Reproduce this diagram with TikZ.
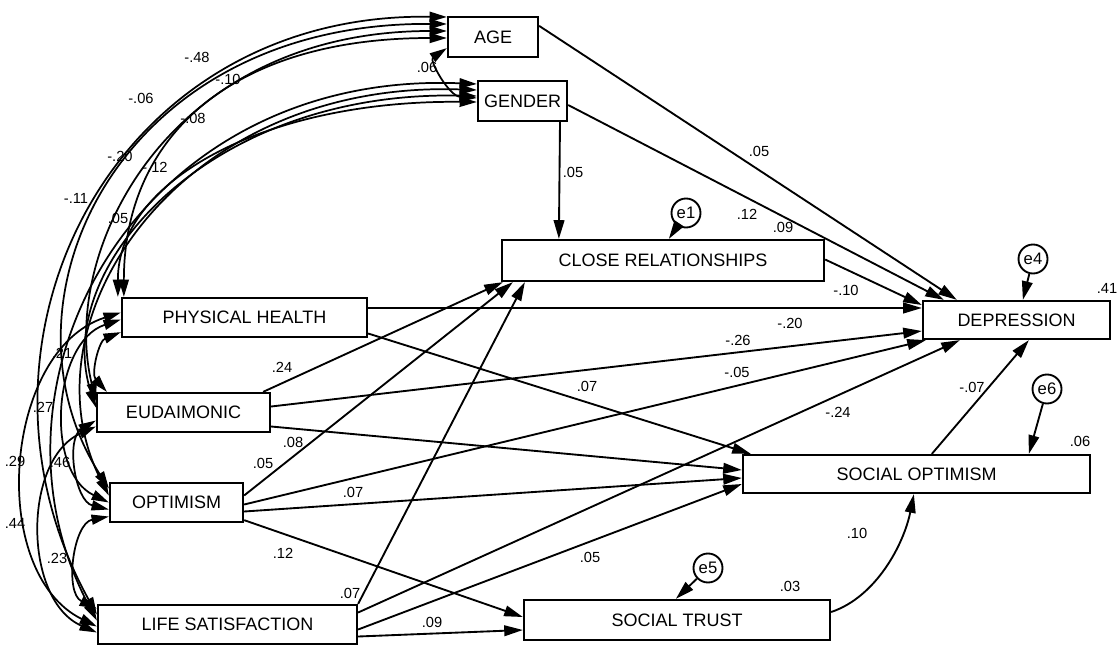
\documentclass[tikz,border=0pt]{standalone}
\usepackage{fontspec}
\setmainfont{Liberation Sans}
\usetikzlibrary{arrows.meta,calc}

\begin{document}
\begin{tikzpicture}[x=0.75pt,y=-0.75pt,
    obs/.style={draw,fill=white,line width=1.7pt,inner sep=0pt,font=\fontsize{13.5}{15}\selectfont},
    err/.style={draw,circle,fill=white,line width=1.4pt,minimum size=.75*29pt,inner sep=0pt,font=\fontsize{12.5}{14}\selectfont},
    reg/.style={line width=1.4pt,-{Triangle[length=14pt,width=8pt]}},
    cov/.style={line width=1.3pt,{Triangle[length=13pt,width=7.5pt]}-{Triangle[length=13pt,width=7.5pt]}},
    coef/.style={font=\fontsize{11}{12}\selectfont,inner sep=0pt}]
    \useasboundingbox (0,0) rectangle (1120,646);

    % variables
    \node[obs,minimum width=.75*90pt,minimum height=.75*40pt] (age) at (493,37) {AGE};
    \node[obs,minimum width=.75*89pt,minimum height=.75*40pt] (gender) at (522.5,101) {GENDER};
    \node[obs,minimum width=.75*322pt,minimum height=.75*41pt] (cr) at (663,260.5) {CLOSE RELATIONSHIPS};
    \node[obs,minimum width=.75*187pt,minimum height=.75*38pt] (dep) at (1016.5,320) {DEPRESSION};
    \node[obs,minimum width=.75*245pt,minimum height=.75*39pt] (ph) at (244.5,317.5) {PHYSICAL HEALTH};
    \node[obs,minimum width=.75*173pt,minimum height=.75*39pt] (eud) at (183.5,412.5) {EUDAIMONIC};
    \node[obs,minimum width=.75*133pt,minimum height=.75*39pt] (opt) at (176.5,502.5) {OPTIMISM};
    \node[obs,minimum width=.75*259pt,minimum height=.75*39pt] (ls) at (227.5,624.5) {LIFE SATISFACTION};
    \node[obs,minimum width=.75*306pt,minimum height=.75*40pt] (st) at (677,620) {SOCIAL TRUST};
    \node[obs,minimum width=.75*347pt,minimum height=.75*38pt] (so) at (916.5,474) {SOCIAL OPTIMISM};
    \node[err] (e1) at (686,213) {e1};
    \node[err] (e4) at (1033,259) {e4};
    \node[err] (e6) at (1047,389) {e6};
    \node[err] (e5) at (708,568) {e5};

    % regressions
    \draw[reg] ($(age.north east)+(0,10)$) -- ($(dep.north west)+(35,0)$);
    \draw[reg] ($(gender.east)+(0,4)$) -- ($(dep.north west)+(22,0)$);
    \draw[reg] ($(gender.south)+(37.5,0)$) -- ($(cr.north west)+(58,0)$);
    \draw[reg] ($(cr.east)+(0,-1)$) -- ($(dep.west)+(0,-15)$);
    \draw[reg] ($(ph.east)+(0,-9.5)$) -- ($(dep.west)+(0,-12)$);
    \draw[reg] ($(eud.east)+(0,-6)$) -- ($(dep.west)+(0,11)$);
    \draw[reg] ($(opt.east)+(0,2)$) -- ($(dep.south west)+(4,0)$);
    \draw[reg] ($(ls.east)+(0,-12)$) -- ($(dep.south west)+(38,0)$);
    \draw[reg] ($(so.north west)+(190,0)$) -- ($(dep.south west)+(107,0)$);
    \draw[reg] ($(ph.east)+(0,16)$) -- ($(so.north west)+(9,0)$);
    \draw[reg] ($(eud.east)+(0,14)$) -- ($(so.west)+(0,-4)$);
    \draw[reg] ($(opt.east)+(0,9)$) -- ($(so.west)+(0,4)$);
    \draw[reg] ($(ls.east)+(0,5)$) -- ($(so.west)+(0,10)$);
    \draw[reg] ($(eud.north east)+(-8,0)$) -- ($(cr.south west)+(2,0)$);
    \draw[reg] ($(opt.east)+(0,-7)$) -- ($(cr.south west)+(12,0)$);
    \draw[reg] (ls.north east) -- ($(cr.south west)+(24,0)$);
    \draw[reg] ($(opt.south east)+(0,-3)$) -- ($(st.west)+(0,-3)$);
    \draw[reg] ($(ls.east)+(0,12)$) -- ($(st.west)+(0,10)$);
    \draw[reg] ($(st.east)+(0,-8)$) .. controls +(45,-15) and +(-10,50) .. ($(so.south west)+(172,0)$);
    \draw[reg] (e1) -- ($(cr.north west)+(168,0)$);
    \draw[reg] (e4) -- ($(dep.north west)+(101,0)$);
    \draw[reg] (e6) -- ($(so.north west)+(287,0)$);
    \draw[reg] (e5) -- ($(st.north west)+(153,0)$);

    % covariances
    \draw[cov] ($(age.south west)+(0,-10)$) .. controls +(-18,12) and +(-28,-2) .. ($(gender.west)+(0,-3)$);
    \draw[cov] ($(age.west)+(0,-20)$) .. controls +(-335,-5) and +(-150,-272) .. ($(ls.west)+(0,-10)$);
    \draw[cov] ($(age.west)+(0,-13)$) .. controls +(-328,-2) and +(-120,-188) .. ($(opt.west)+(0,-14)$);
    \draw[cov] ($(age.west)+(0,-6)$) .. controls +(-278,0) and +(-37,-150) .. ($(eud.west)+(0,-12)$);
    \draw[cov] ($(age.west)+(0,1)$) .. controls +(-218,0) and +(0,-158) .. ($(ph.north west)+(3,0)$);
    \draw[cov] ($(gender.west)+(0,-17)$) .. controls +(-338,-14) and +(-128,-240) .. ($(ls.west)+(0,-4)$);
    \draw[cov] ($(gender.west)+(0,-11)$) .. controls +(-298,-10) and +(-90,-175) .. ($(opt.west)+(0,-7)$);
    \draw[cov] ($(gender.west)+(0,-5)$) .. controls +(-268,-6) and +(-45,-140) .. ($(eud.west)+(0,-5)$);
    \draw[cov] ($(gender.west)+(0,1)$) .. controls +(-208,-2) and +(0,-118) .. ($(ph.north west)+(-3,0)$);
    \draw[cov] ($(ph.south west)+(0,-6)$) to[bend right=55] ($(eud.north west)+(11,0)$);
    \draw[cov] ($(ph.west)+(0,2)$) to[bend right=68] (opt.west);
    \draw[cov] ($(ph.west)+(0,-5)$) to[bend right=68] ($(ls.west)+(0,2)$);
    \draw[cov] ($(eud.west)+(0,8)$) to[bend right=68] ($(opt.west)+(0,7)$);
    \draw[cov] ($(eud.west)+(0,14)$) to[bend right=66] ($(ls.west)+(0,8)$);
    \draw[cov] ($(opt.west)+(0,14)$) to[bend right=72] ($(ls.west)+(0,-16)$);

    % estimates
    \node[coef] (w1) at (759,151) {.05};
    \node[coef] (w2) at (747,214) {.12};
    \node[coef] (w3) at (573,172) {.05};
    \node[coef] (w4) at (846,290) {-.10};
    \node[coef] (w5) at (790,323) {-.20};
    \node[coef] (w6) at (738,340) {-.26};
    \node[coef] (w7) at (737,372) {-.05};
    \node[coef] (w8) at (838,412) {-.24};
    \node[coef] (w9) at (972,387) {-.07};
    \node[coef] (w10) at (587,386) {.07};
    \node[coef] (w11) at (293,442) {.08};
    \node[coef] (w12) at (353,492) {.07};
    \node[coef] (w13) at (590,557) {.05};
    \node[coef] (w14) at (282,367) {.24};
    \node[coef] (w15) at (263,463) {.05};
    \node[coef] (w16) at (350,593) {.07};
    \node[coef] (w17) at (283,553) {.12};
    \node[coef] (w18) at (432,622) {.09};
    \node[coef] (w19) at (857,533) {.10};
    \node[coef] (r1) at (783,227) {.09};
    \node[coef] (r2) at (1107,288) {.41};
    \node[coef] (r3) at (1080,441) {.06};
    \node[coef] (r4) at (790,586) {.03};
    \node[coef] (k1) at (427,67) {.06};
    \node[coef] (k2) at (197,57) {-.48};
    \node[coef] (k3) at (228,79) {-.10};
    \node[coef] (k4) at (141,98) {-.06};
    \node[coef] (k5) at (193,118) {-.08};
    \node[coef] (k6) at (120,156) {-.20};
    \node[coef] (k7) at (155,167) {-.12};
    \node[coef] (k8) at (76,198) {-.11};
    \node[coef] (k9) at (118,218) {.05};
    \node[coef] (k10) at (62,353) {.21};
    \node[coef] (k11) at (43,407) {.27};
    \node[coef] (k12) at (15,461) {.29};
    \node[coef] (k13) at (60,462) {.46};
    \node[coef] (k14) at (15,523) {.44};
    \node[coef] (k15) at (57,558) {.23};
\end{tikzpicture}
\end{document}
